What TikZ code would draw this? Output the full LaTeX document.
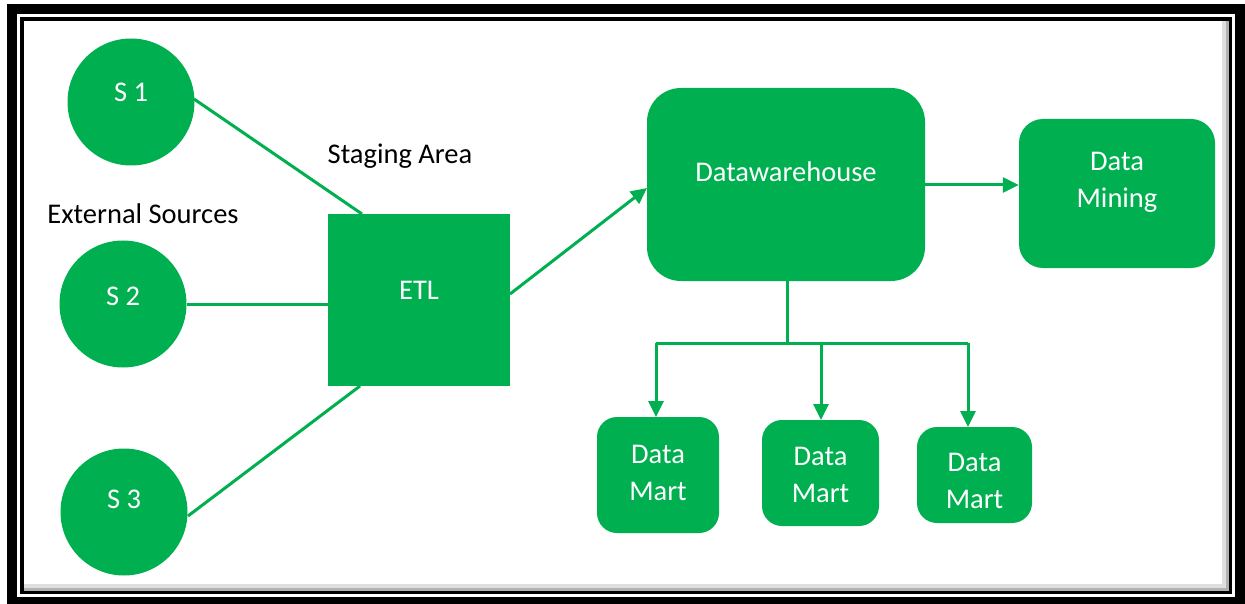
\documentclass[tikz,border=0pt]{standalone}
\usepackage{fontspec}
\setmainfont{Carlito}
\usetikzlibrary{arrows.meta}
\definecolor{og}{HTML}{00B050}
\begin{document}
\begin{tikzpicture}[x=1pt,y=-1pt,
  every node/.style={font=\fontsize{28.5}{37}\selectfont},
  src/.style={circle,fill=og,draw=none,minimum size=127pt,inner sep=0},
  box/.style={fill=og,draw=none,rounded corners=#1,inner sep=0},
  wt/.style={text=white,align=center},
  bt/.style={text=black},
  con/.style={draw=og,line width=3pt},
  arr/.style={con,-{Triangle[length=16pt,width=15pt]}}]
\useasboundingbox (0,0) rectangle (1245,604);
% frame
\fill[black] (7,4) rectangle (1245,604);
\fill[white] (17,14) rectangle (1235,597);
\fill[black] (20,17) rectangle (1232,594);
\fill[gray!60] (24,21) rectangle (1229,591);
\fill[gray!25] (24,21) rectangle (1226,588);
\fill[white] (24,21) rectangle (1222,584);
% sources
\node[src] (s1) at (131,102) {};
\node[src] (s2) at (123,304) {};
\node[src] (s3) at (124,512) {};
\node[wt] (s1t) at (131,92) {S 1};
\node[wt] (s2t) at (123,296) {S 2};
\node[wt] (s3t) at (124,499) {S 3};
\node[bt] (ext) at (143,214) {External Sources};
\node[bt] (stg) at (400,156) {Staging Area};
% ETL
\node[box=0pt,minimum width=182pt,minimum height=172pt] (etl) at (419,300) {};
\node[wt] (etlt) at (419,290) {ETL};
% DW
\node[box=34pt,minimum width=278pt,minimum height=193pt] (dw) at (786,184.5) {};
\node[wt] (dwt) at (786,172) {Datawarehouse};
\node[box=24pt,minimum width=196pt,minimum height=149pt] (dm) at (1117,193.5) {};
\node[wt] (dmt) at (1117,182) {Data\\Mining};
% marts
\node[box=20pt,minimum width=122pt,minimum height=116pt] (m1) at (658,475) {};
\node[box=20pt,minimum width=117pt,minimum height=106pt] (m2) at (820.5,473) {};
\node[box=20pt,minimum width=115pt,minimum height=96pt] (m3) at (974.5,475) {};
\node[wt] (m1t) at (658,473) {Data\\Mart};
\node[wt] (m2t) at (820.5,475) {Data\\Mart};
\node[wt] (m3t) at (974.5,481) {Data\\Mart};
% connectors
\coordinate (a1) at (194,99);
\coordinate (e1) at (362,214);
\coordinate (a3) at (188,516);
\coordinate (e3) at (360,386);
\draw[con] (a1) -- (e1);
\draw[con] (s2.east) -- (s2.east -| etl.west);
\draw[con] (a3) -- (e3);
\coordinate (eo) at (510,294);
\coordinate (di) at (647,188);
\draw[arr] (eo) -- (di);
\coordinate (dwo) at (925,185);
\draw[arr] (dwo) -- (dwo -| dm.west);
\coordinate (j) at (787,343);
\draw[con] (dw.south -| j) -- (j);
\draw[con] (656,343) -- (968,343);
\draw[arr] (656,343) -- (656,417);
\draw[arr] (821,343) -- (821,420);
\draw[arr] (968,343) -- (968,427);
\end{tikzpicture}
\end{document}
